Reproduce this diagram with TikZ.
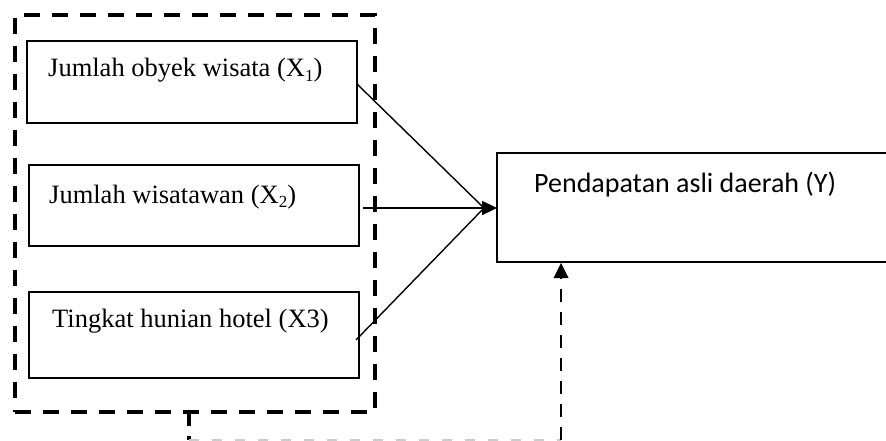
\documentclass[tikz,border=0pt]{standalone}
\usepackage{fontspec}
\setmainfont{Liberation Serif}
\newfontfamily\calibrifont{Carlito}
\usetikzlibrary{arrows.meta}
\newcommand\subidx[1]{\raisebox{-0.18em}{\fontsize{17}{17}\selectfont #1}}
\tikzset{
  varbox/.style={draw=black, line width=1.5pt, rectangle, inner sep=0pt},
  grpbox/.style={draw=black, line width=3.4pt, rectangle, inner sep=0pt, dash pattern=on 16pt off 12pt},
  vartext/.style={anchor=base west, inner sep=0pt, font=\fontsize{26.5}{30}\selectfont},
  ytext/.style={anchor=base west, inner sep=0pt, font=\calibrifont\fontsize{28}{32}\selectfont},
  conn/.style={draw=black, line width=1.4pt},
  tip/.style={-{Triangle[length=15pt,width=14pt]}},
  blackdash/.style={draw=black, line width=3.4pt, dash pattern=on 14pt off 10pt},
  ydash/.style={draw=black, line width=2.8pt, dash pattern=on 13pt off 10pt},
  greydash/.style={draw=black!20, line width=2.2pt, dash pattern=on 10pt off 13pt},
}
\begin{document}
\begin{tikzpicture}[x=1pt,y=-1pt]
\useasboundingbox (0,0) rectangle (886,441);
\clip (0,0) rectangle (886,441);
% group box
\node[grpbox, minimum width=360pt, minimum height=397pt] (grp) at (195,213.5) {};
% variable boxes
\node[varbox, minimum width=330pt, minimum height=82pt] (b1) at (192,82) {};
\node[varbox, minimum width=330pt, minimum height=81pt] (b2) at (194,205.5) {};
\node[varbox, minimum width=330pt, minimum height=86pt] (b3) at (194,335) {};
\node[varbox, minimum width=393pt, minimum height=109pt] (y) at (693.5,207.5) {};
% texts
\node[vartext] (t1) at (48,77) {Jumlah obyek wisata (X\subidx{1})};
\node[vartext] (t2) at (49,203) {Jumlah wisatawan (X\subidx{2})};
\node[vartext] (t3) at (52,327) {Tingkat hunian hotel (X3)};
\node[ytext] (ty) at (534,192) {Pendapatan asli daerah (Y)};
% connectors
\coordinate (conv) at (484,208);
\coordinate (s1) at (357,84);
\coordinate (s2) at (363,208);
\coordinate (s3) at (356,340);
\coordinate (ywest) at (497,208);
\draw[conn] (s1) -- (conv);
\draw[conn] (s3) -- (conv);
\draw[conn, line width=2.2pt, tip] (s2) -- (ywest);
% moderating dashed path
\coordinate (gb) at (189,412);
\coordinate (gc) at (189,440);
\coordinate (yc) at (561,440);
\coordinate (yb) at (561,263);
\draw[blackdash] (gb) -- (gc);
\draw[greydash] (gc) -- (yc);
\draw[ydash] (yc) -- ([yshift=-14pt]yb);
\fill[black] (yb) -- ([xshift=-7.5pt,yshift=-15pt]yb) -- ([xshift=7.5pt,yshift=-15pt]yb) -- cycle;
\end{tikzpicture}
\end{document}
